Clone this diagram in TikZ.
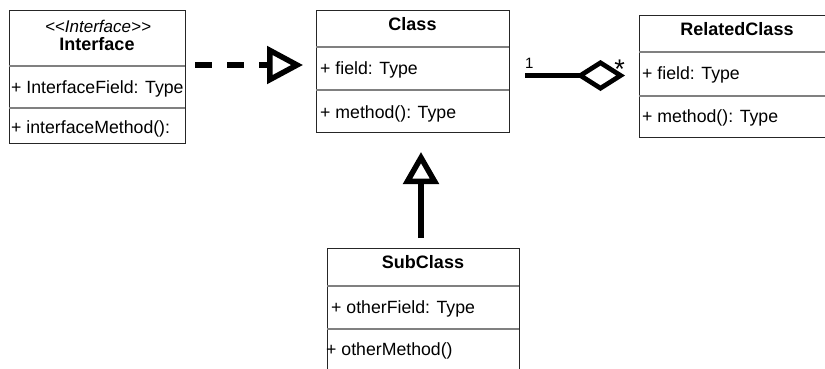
\documentclass[tikz,border=0pt]{standalone}
\usepackage{fontspec}
\setmainfont{Liberation Sans}
\usetikzlibrary{arrows.meta}
\begin{document}
\begin{tikzpicture}[x=1pt,y=-1pt,
  umlbox/.style={draw=black!85, line width=1pt, anchor=north west, inner sep=0pt, outer sep=0pt},
  divider/.style={draw=black!50, line width=2pt},
  titletext/.style={font=\fontsize{18}{21}\selectfont\bfseries, anchor=base, inner sep=0pt},
  stereotext/.style={font=\fontsize{17}{20}\selectfont\itshape, anchor=base, inner sep=0pt},
  membertext/.style={font=\fontsize{17.7}{20}\selectfont, anchor=base west, inner sep=0pt},
  multtext/.style={font=\fontsize{15}{18}\selectfont, anchor=base west, inner sep=0pt},
  startext/.style={font=\fontsize{27}{28}\selectfont, anchor=base, inner sep=0pt},
  realize/.style={line width=5.5pt, dash pattern=on 17pt off 15pt, -{Triangle[open, length=36pt, width=37pt]}},
  inherit/.style={line width=5.5pt, -{Triangle[open, length=32pt, width=35pt]}},
  aggreg/.style={line width=4.7pt, -{Diamond[open, length=49pt, width=31pt]}},
]
\clip (0,0) rectangle (825,368);
% Interface
\node[umlbox, minimum width=176pt, minimum height=133pt] (iface) at (9,10) {};
\draw[divider] ([yshift=-56pt]iface.north west) -- ([yshift=-56pt]iface.north east);
\draw[divider] ([yshift=-98pt]iface.north west) -- ([yshift=-98pt]iface.north east);
\node[stereotext] (iface-st) at (98,32) {<{}<Interface>{}>};
\node[titletext] (iface-t) at (97,50) {Interface};
\node[membertext] (iface-f) at (11,93) {+ InterfaceField: Type};
\node[membertext] (iface-m) at (11,133) {+ interfaceMethod():};
% Class
\node[umlbox, minimum width=193pt, minimum height=122pt] (class) at (316,10) {};
\draw[divider] ([yshift=-37pt]class.north west) -- ([yshift=-37pt]class.north east);
\draw[divider] ([yshift=-80pt]class.north west) -- ([yshift=-80pt]class.north east);
\node[titletext] (class-t) at (412.5,30) {Class};
\node[membertext] (class-f) at (320,74) {+ field: Type};
\node[membertext] (class-m) at (320,118) {+ method(): Type};
% RelatedClass
\node[umlbox, minimum width=196pt, minimum height=122pt] (rel) at (639,15) {};
\draw[divider] ([yshift=-37pt]rel.north west) -- ([yshift=-37pt]rel.north east);
\draw[divider] ([yshift=-81pt]rel.north west) -- ([yshift=-81pt]rel.north east);
\node[titletext] (rel-t) at (737,35) {RelatedClass};
\node[membertext] (rel-f) at (642,79) {+ field: Type};
\node[membertext] (rel-m) at (642,122) {+ method(): Type};
% SubClass
\node[umlbox, minimum width=192pt, minimum height=150pt] (sub) at (327,248) {};
\draw[divider] ([yshift=-38pt]sub.north west) -- ([yshift=-38pt]sub.north east);
\draw[divider] ([yshift=-81pt]sub.north west) -- ([yshift=-81pt]sub.north east);
\node[titletext] (sub-t) at (423,268) {SubClass};
\node[membertext] (sub-f) at (331,313) {+ otherField: Type};
\node[membertext] (sub-m) at (326,355) {+ otherMethod()};
% connectors
\coordinate (real-s) at (195,65);
\coordinate (real-e) at (303,65);
\draw[realize] (real-s) -- (real-e);
\coordinate (inh-s) at (421,238);
\coordinate (inh-e) at (421,152);
\draw[inherit] (inh-s) -- (inh-e);
\coordinate (agg-s) at (525,75.5);
\coordinate (agg-e) at (625,75.5);
\draw[aggreg] (agg-s) -- (agg-e);
\node[multtext] (mult-one) at (525,68) {1};
\node[startext] (mult-many) at (619.5,78) {*};
\end{tikzpicture}
\end{document}
